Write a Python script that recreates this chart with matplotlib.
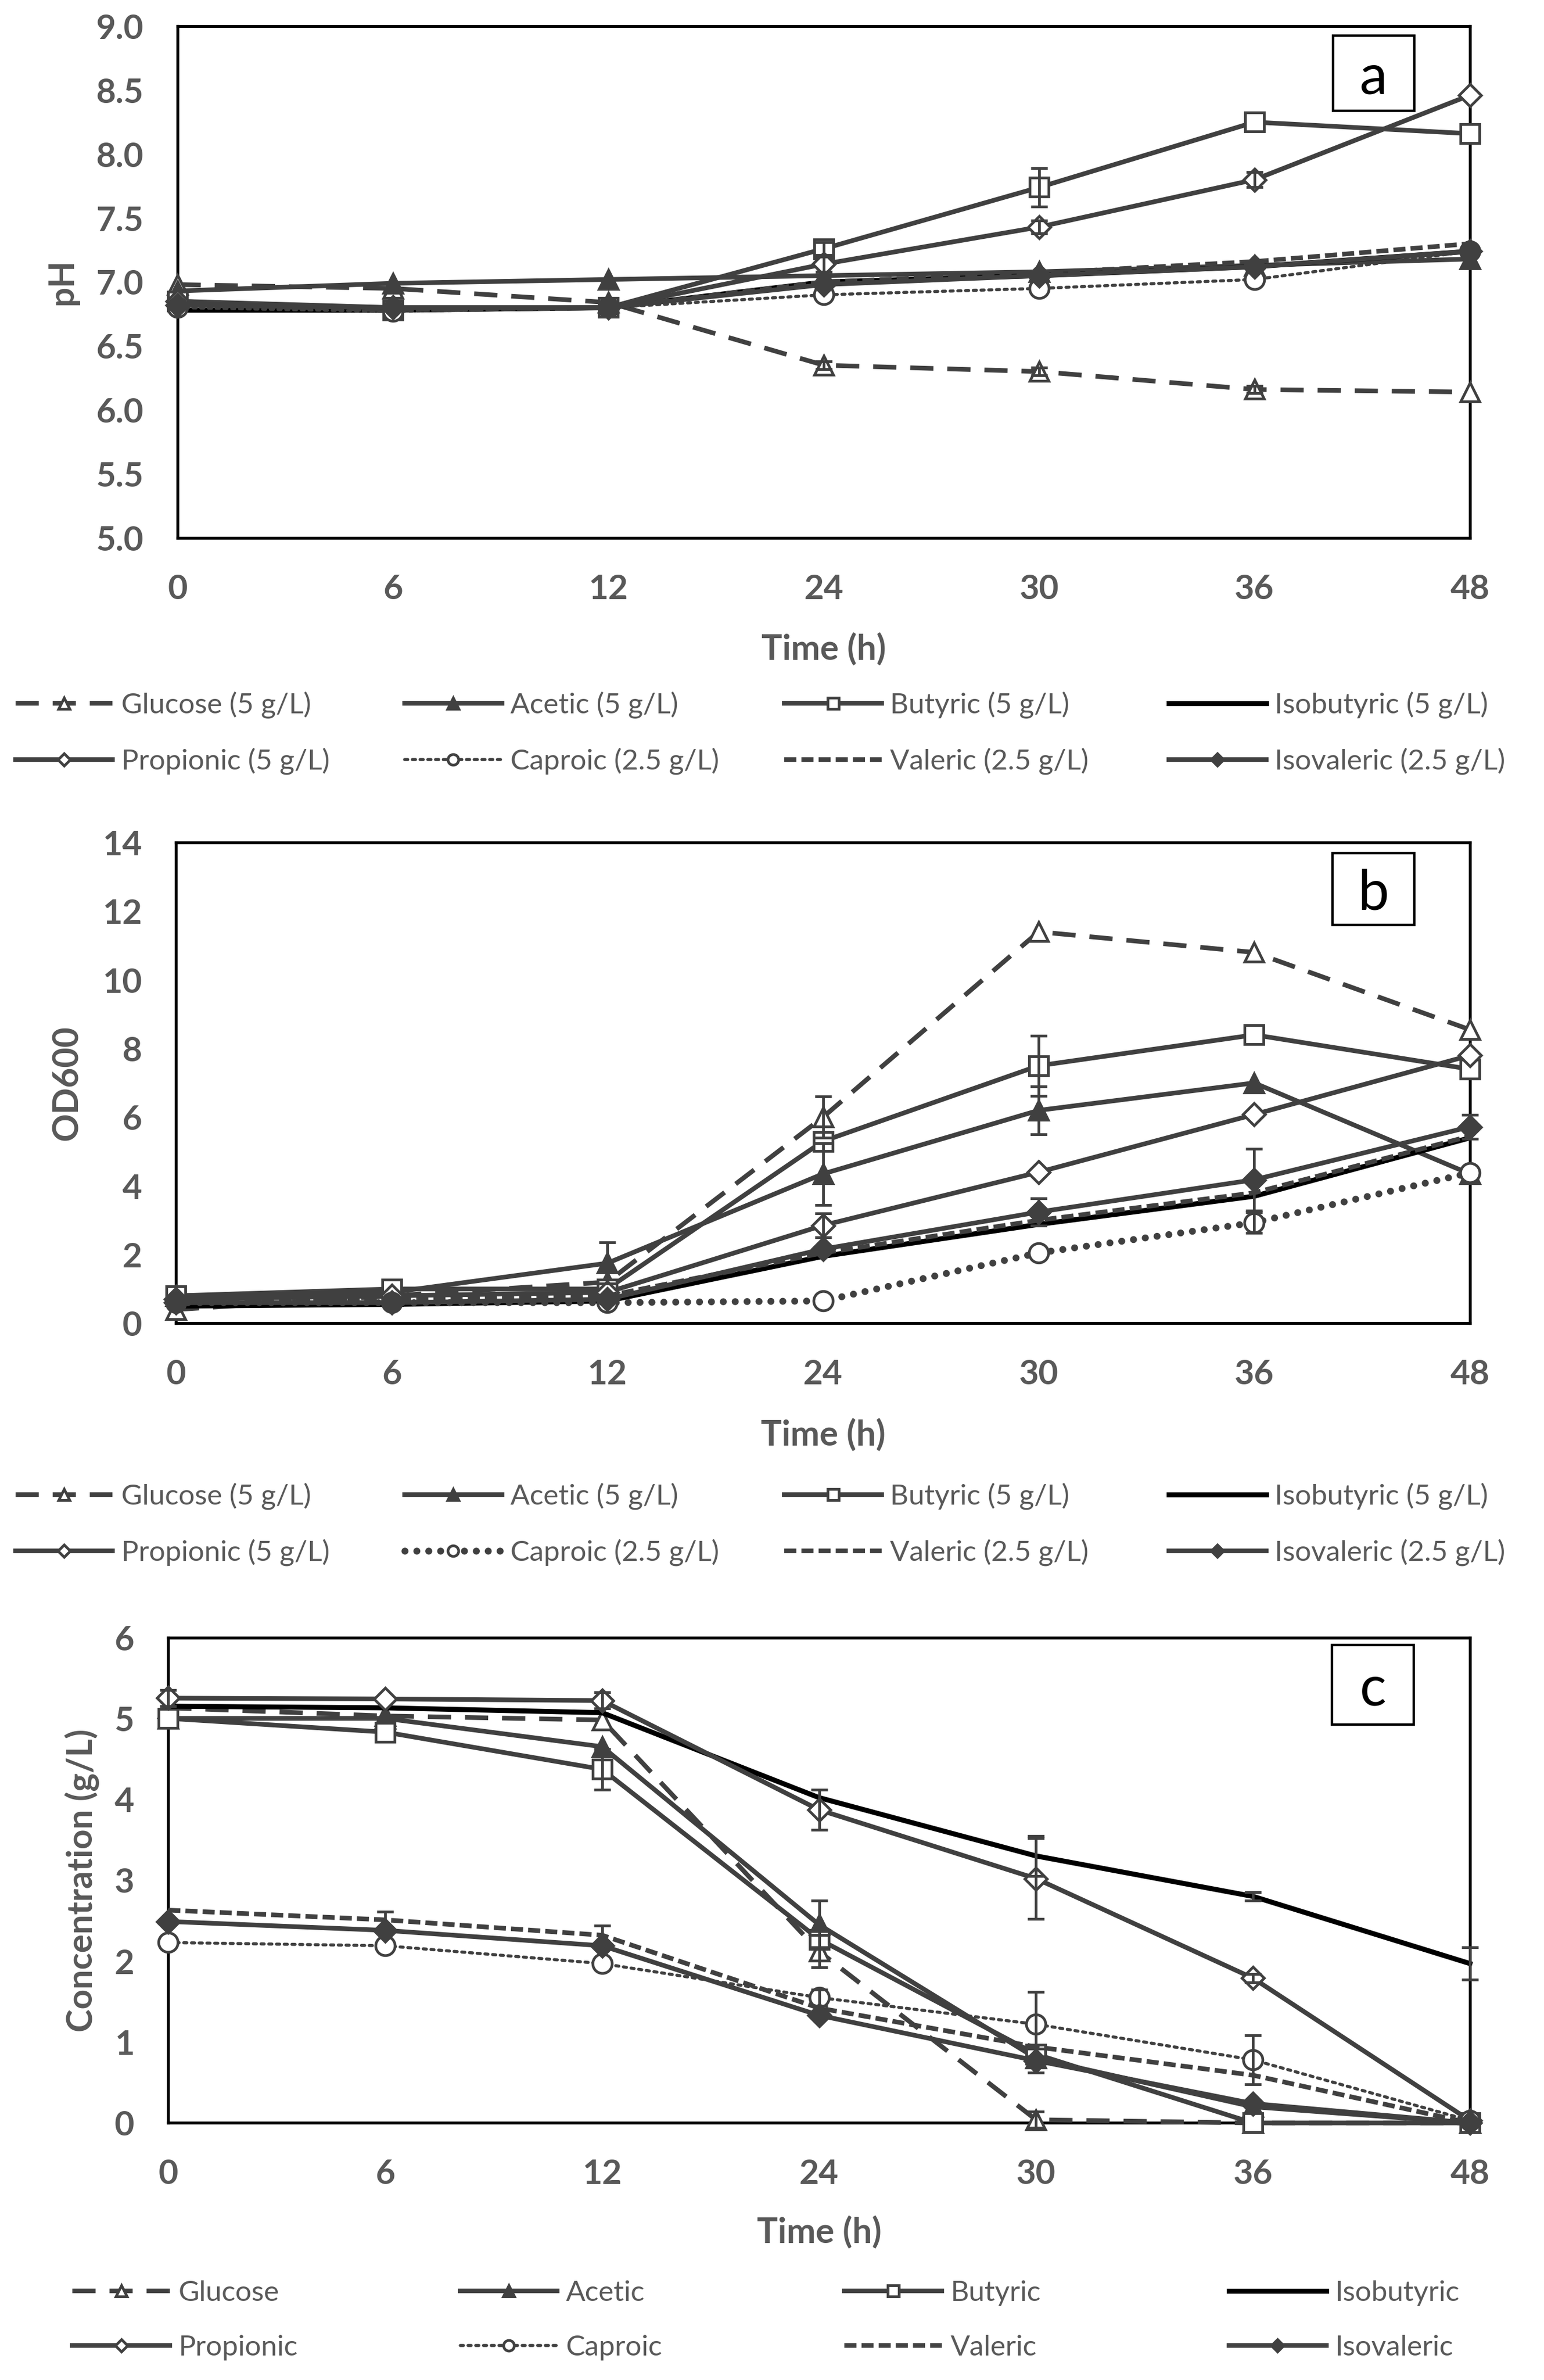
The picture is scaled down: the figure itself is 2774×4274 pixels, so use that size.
import matplotlib
matplotlib.use('Agg')
import matplotlib.pyplot as plt
from matplotlib.patches import Rectangle

plt.rcParams['font.family'] = ['Lato', 'DejaVu Sans']

# x categories (Excel-style evenly spaced)
time_labels = ['0', '6', '12', '24', '30', '36', '48']
series_names = ['Glucose', 'Acetic', 'Butyric', 'Isobutyric',
                'Propionic', 'Caproic', 'Valeric', 'Isovaleric']
series_conc = ['5 g/L', '5 g/L', '5 g/L', '5 g/L',
               '5 g/L', '2.5 g/L', '2.5 g/L', '2.5 g/L']

# panel a: pH
ph_values = [
    [6.98, 6.95, 6.84, 6.35, 6.30, 6.16, 6.14],   # Glucose
    [6.93, 6.99, 7.02, 7.05, 7.08, 7.13, 7.18],   # Acetic
    [6.85, 6.78, 6.80, 7.26, 7.74, 8.25, 8.16],   # Butyric
    [6.78, 6.78, 6.80, 7.00, 7.05, 7.12, 7.24],   # Isobutyric
    [6.85, 6.80, 6.80, 7.14, 7.43, 7.80, 8.46],   # Propionic
    [6.80, 6.77, 6.80, 6.90, 6.95, 7.02, 7.24],   # Caproic
    [6.83, 6.78, 6.80, 7.00, 7.07, 7.16, 7.30],   # Valeric
    [6.82, 6.80, 6.80, 6.98, 7.05, 7.12, 7.24],   # Isovaleric
]
ph_errors = [
    [0, 0, 0, 0.03, 0.03, 0.03, 0],
    [0, 0, 0, 0, 0, 0, 0],
    [0, 0, 0, 0.05, 0.15, 0, 0],
    [0, 0, 0, 0, 0, 0, 0],
    [0, 0, 0, 0.06, 0.05, 0.06, 0],
    [0, 0, 0, 0, 0, 0, 0],
    [0, 0, 0, 0, 0, 0, 0],
    [0, 0, 0, 0, 0, 0, 0],
]

# panel b: OD600
od_values = [
    [0.4, 0.8, 1.2, 6.0, 11.4, 10.8, 8.55],   # Glucose
    [0.8, 0.9, 1.75, 4.35, 6.2, 7.0, 4.35],   # Acetic
    [0.8, 1.0, 1.0, 5.3, 7.5, 8.4, 7.4],      # Butyric
    [0.5, 0.55, 0.65, 1.95, 2.88, 3.7, 5.4],  # Isobutyric
    [0.7, 0.8, 0.9, 2.85, 4.4, 6.08, 7.8],    # Propionic
    [0.6, 0.6, 0.6, 0.65, 2.05, 2.93, 4.38],  # Caproic
    [0.6, 0.7, 0.8, 2.05, 3.0, 3.8, 5.45],    # Valeric
    [0.6, 0.6, 0.7, 2.16, 3.24, 4.18, 5.72],  # Isovaleric
]
od_errors = [
    [0, 0, 0, 0.6, 0, 0, 0],
    [0, 0, 0.6, 0.9, 0.7, 0, 0],
    [0, 0, 0, 0, 0.88, 0, 0],
    [0, 0, 0, 0, 0, 0, 0],
    [0, 0, 0, 0.35, 0, 0, 0],
    [0, 0, 0, 0, 0, 0.3, 0],
    [0, 0, 0, 0, 0, 0, 0],
    [0, 0, 0, 0, 0.4, 0.9, 0.35],
]

# panel c: concentration (g/L)
conc_values = [
    [5.13, 5.03, 4.98, 2.12, 0.04, 0.0, 0.0],   # Glucose
    [5.0, 5.0, 4.65, 2.45, 0.8, 0.2, 0.0],      # Acetic
    [5.0, 4.83, 4.37, 2.27, 0.85, 0.0, 0.0],    # Butyric
    [5.15, 5.13, 5.07, 4.02, 3.30, 2.80, 1.97], # Isobutyric
    [5.25, 5.24, 5.22, 3.87, 3.02, 1.79, 0.03], # Propionic
    [2.23, 2.19, 1.97, 1.55, 1.22, 0.78, 0.03], # Caproic
    [2.63, 2.51, 2.32, 1.42, 0.94, 0.59, 0.0],  # Valeric
    [2.49, 2.38, 2.19, 1.33, 0.77, 0.24, 0.0],  # Isovaleric
]
conc_errors = [
    [0, 0, 0, 0.2, 0.1, 0, 0],
    [0, 0, 0, 0.3, 0, 0, 0],
    [0, 0, 0.25, 0.1, 0, 0, 0],
    [0, 0, 0, 0, 0.25, 0.05, 0.2],
    [0.1, 0, 0.1, 0.25, 0.5, 0.05, 0],
    [0, 0, 0, 0.1, 0.4, 0.3, 0],
    [0, 0.1, 0.12, 0, 0, 0, 0],
    [0, 0, 0, 0, 0.15, 0, 0],
]

GRAY = '#404040'
TEXT = '#595959'
LW = 6


def line_styles(big_dots=False):
    cap_dot = dict(ls=(0, (0.01, 1.7)), lw=9, dash_capstyle='round') if big_dots \
        else dict(ls=(0, (1, 1.5)), lw=4, dash_capstyle='round')
    return [
        dict(color=GRAY, ls=(0, (5, 3)), lw=LW, marker='^', mfc='white'),
        dict(color=GRAY, ls='-', lw=LW, marker='^', mfc=GRAY),
        dict(color=GRAY, ls='-', lw=LW, marker='s', mfc='white'),
        dict(color='black', ls='-', lw=6.5, marker=None),
        dict(color=GRAY, ls='-', lw=LW, marker='D', mfc='white', ms=20),
        dict(color=GRAY, marker='o', mfc='white', **cap_dot),
        dict(color=GRAY, ls=(0, (2.6, 1.1)), lw=LW, marker=None),
        dict(color=GRAY, ls='-', lw=LW, marker='D', mfc=GRAY, ms=20),
    ]


def draw_panel(ax, values, errors, ylim, yticks, yfmt, ylabel, ylab_x,
               xlab_y, letter, big_dots=False):
    x = list(range(len(time_labels)))
    handles = []
    for vals, errs, st in zip(values, errors, line_styles(big_dots)):
        st = dict(st)
        st.setdefault('ms', 25)
        h, = ax.plot(x, vals, mec=st['color'], mew=3.5, clip_on=False, zorder=3, **st)
        handles.append(h)
        ex = [xi for xi, e in zip(x, errs) if e > 0]
        ey = [v for v, e in zip(vals, errs) if e > 0]
        ee = [e for e in errs if e > 0]
        if ex:
            ax.errorbar(ex, ey, yerr=ee, fmt='none', ecolor=GRAY, elinewidth=3.5,
                        capsize=11, capthick=3.5, clip_on=False, zorder=4)
    ax.set_xlim(0, len(time_labels) - 1)
    ax.set_ylim(*ylim)
    ax.set_xticks(x)
    ax.set_xticklabels(time_labels)
    ax.set_yticks(yticks)
    ax.set_yticklabels([yfmt.format(t) for t in yticks])
    ax.tick_params(axis='both', length=0, labelsize=44, labelcolor=TEXT)
    ax.tick_params(axis='x', pad=46)
    ax.tick_params(axis='y', pad=44)
    for lab in ax.get_xticklabels() + ax.get_yticklabels():
        lab.set_fontweight('bold')
    for sp in ax.spines.values():
        sp.set_linewidth(3.8)
        sp.set_color('black')
    ax.text(0.5, xlab_y, 'Time (h)', transform=ax.transAxes, ha='center',
            va='center', fontsize=45, fontweight='bold', color=TEXT)
    ax.text(ylab_x, 0.5, ylabel, transform=ax.transAxes, ha='center',
            va='center', rotation=90, fontsize=45, fontweight='bold', color=TEXT)
    ax.add_patch(Rectangle((0.894, letter[1]), 0.063, letter[2] - letter[1],
                           transform=ax.transAxes, fill=True, fc='white',
                           ec='black', lw=3.2, zorder=6, clip_on=False))
    ax.text(0.9255, (letter[1] + letter[2]) / 2 - 0.01, letter[0],
            transform=ax.transAxes, ha='center', va='center', fontsize=72,
            color='black', zorder=7)
    return handles


def add_legend(fig, handles, labels, col_x, yc):
    for i, xc in enumerate(col_x):
        fig.legend([handles[i], handles[i + 4]], [labels[i], labels[i + 4]],
                   loc='center left', bbox_to_anchor=(xc, yc), frameon=False,
                   fontsize=37, handlelength=3.4, handletextpad=0.3,
                   labelspacing=1.02, borderpad=0, borderaxespad=0,
                   markerscale=0.55, labelcolor=TEXT)


fig = plt.figure(figsize=(27.74, 42.74), dpi=100)

ax_a = fig.add_axes([0.115, 0.774, 0.837, 0.215])
ax_b = fig.add_axes([0.114, 0.444, 0.838, 0.202])
ax_c = fig.add_axes([0.109, 0.108, 0.843, 0.204])

h_a = draw_panel(ax_a, ph_values, ph_errors, (5, 9), [5 + 0.5 * i for i in range(9)],
                 '{:.1f}', 'pH', -0.089, -0.218, ('a', 0.835, 0.982))
h_b = draw_panel(ax_b, od_values, od_errors, (0, 14), list(range(0, 15, 2)),
                 '{:d}', 'OD600', -0.084, -0.232, ('b', 0.828, 0.978), big_dots=True)
h_c = draw_panel(ax_c, conc_values, conc_errors, (0, 6), list(range(0, 7)),
                 '{:d}', 'Concentration (g/L)', -0.066, -0.226, ('c', 0.82, 0.985))

labels_ab = [f'{n} ({c})' for n, c in zip(series_names, series_conc)]
add_legend(fig, h_a, labels_ab, [0.010, 0.262, 0.508, 0.757], 0.6920)
add_legend(fig, h_b, labels_ab, [0.010, 0.262, 0.508, 0.757], 0.3595)
add_legend(fig, h_c, series_names, [0.047, 0.298, 0.547, 0.796], 0.0250)

fig.savefig('out.png', dpi=100)
